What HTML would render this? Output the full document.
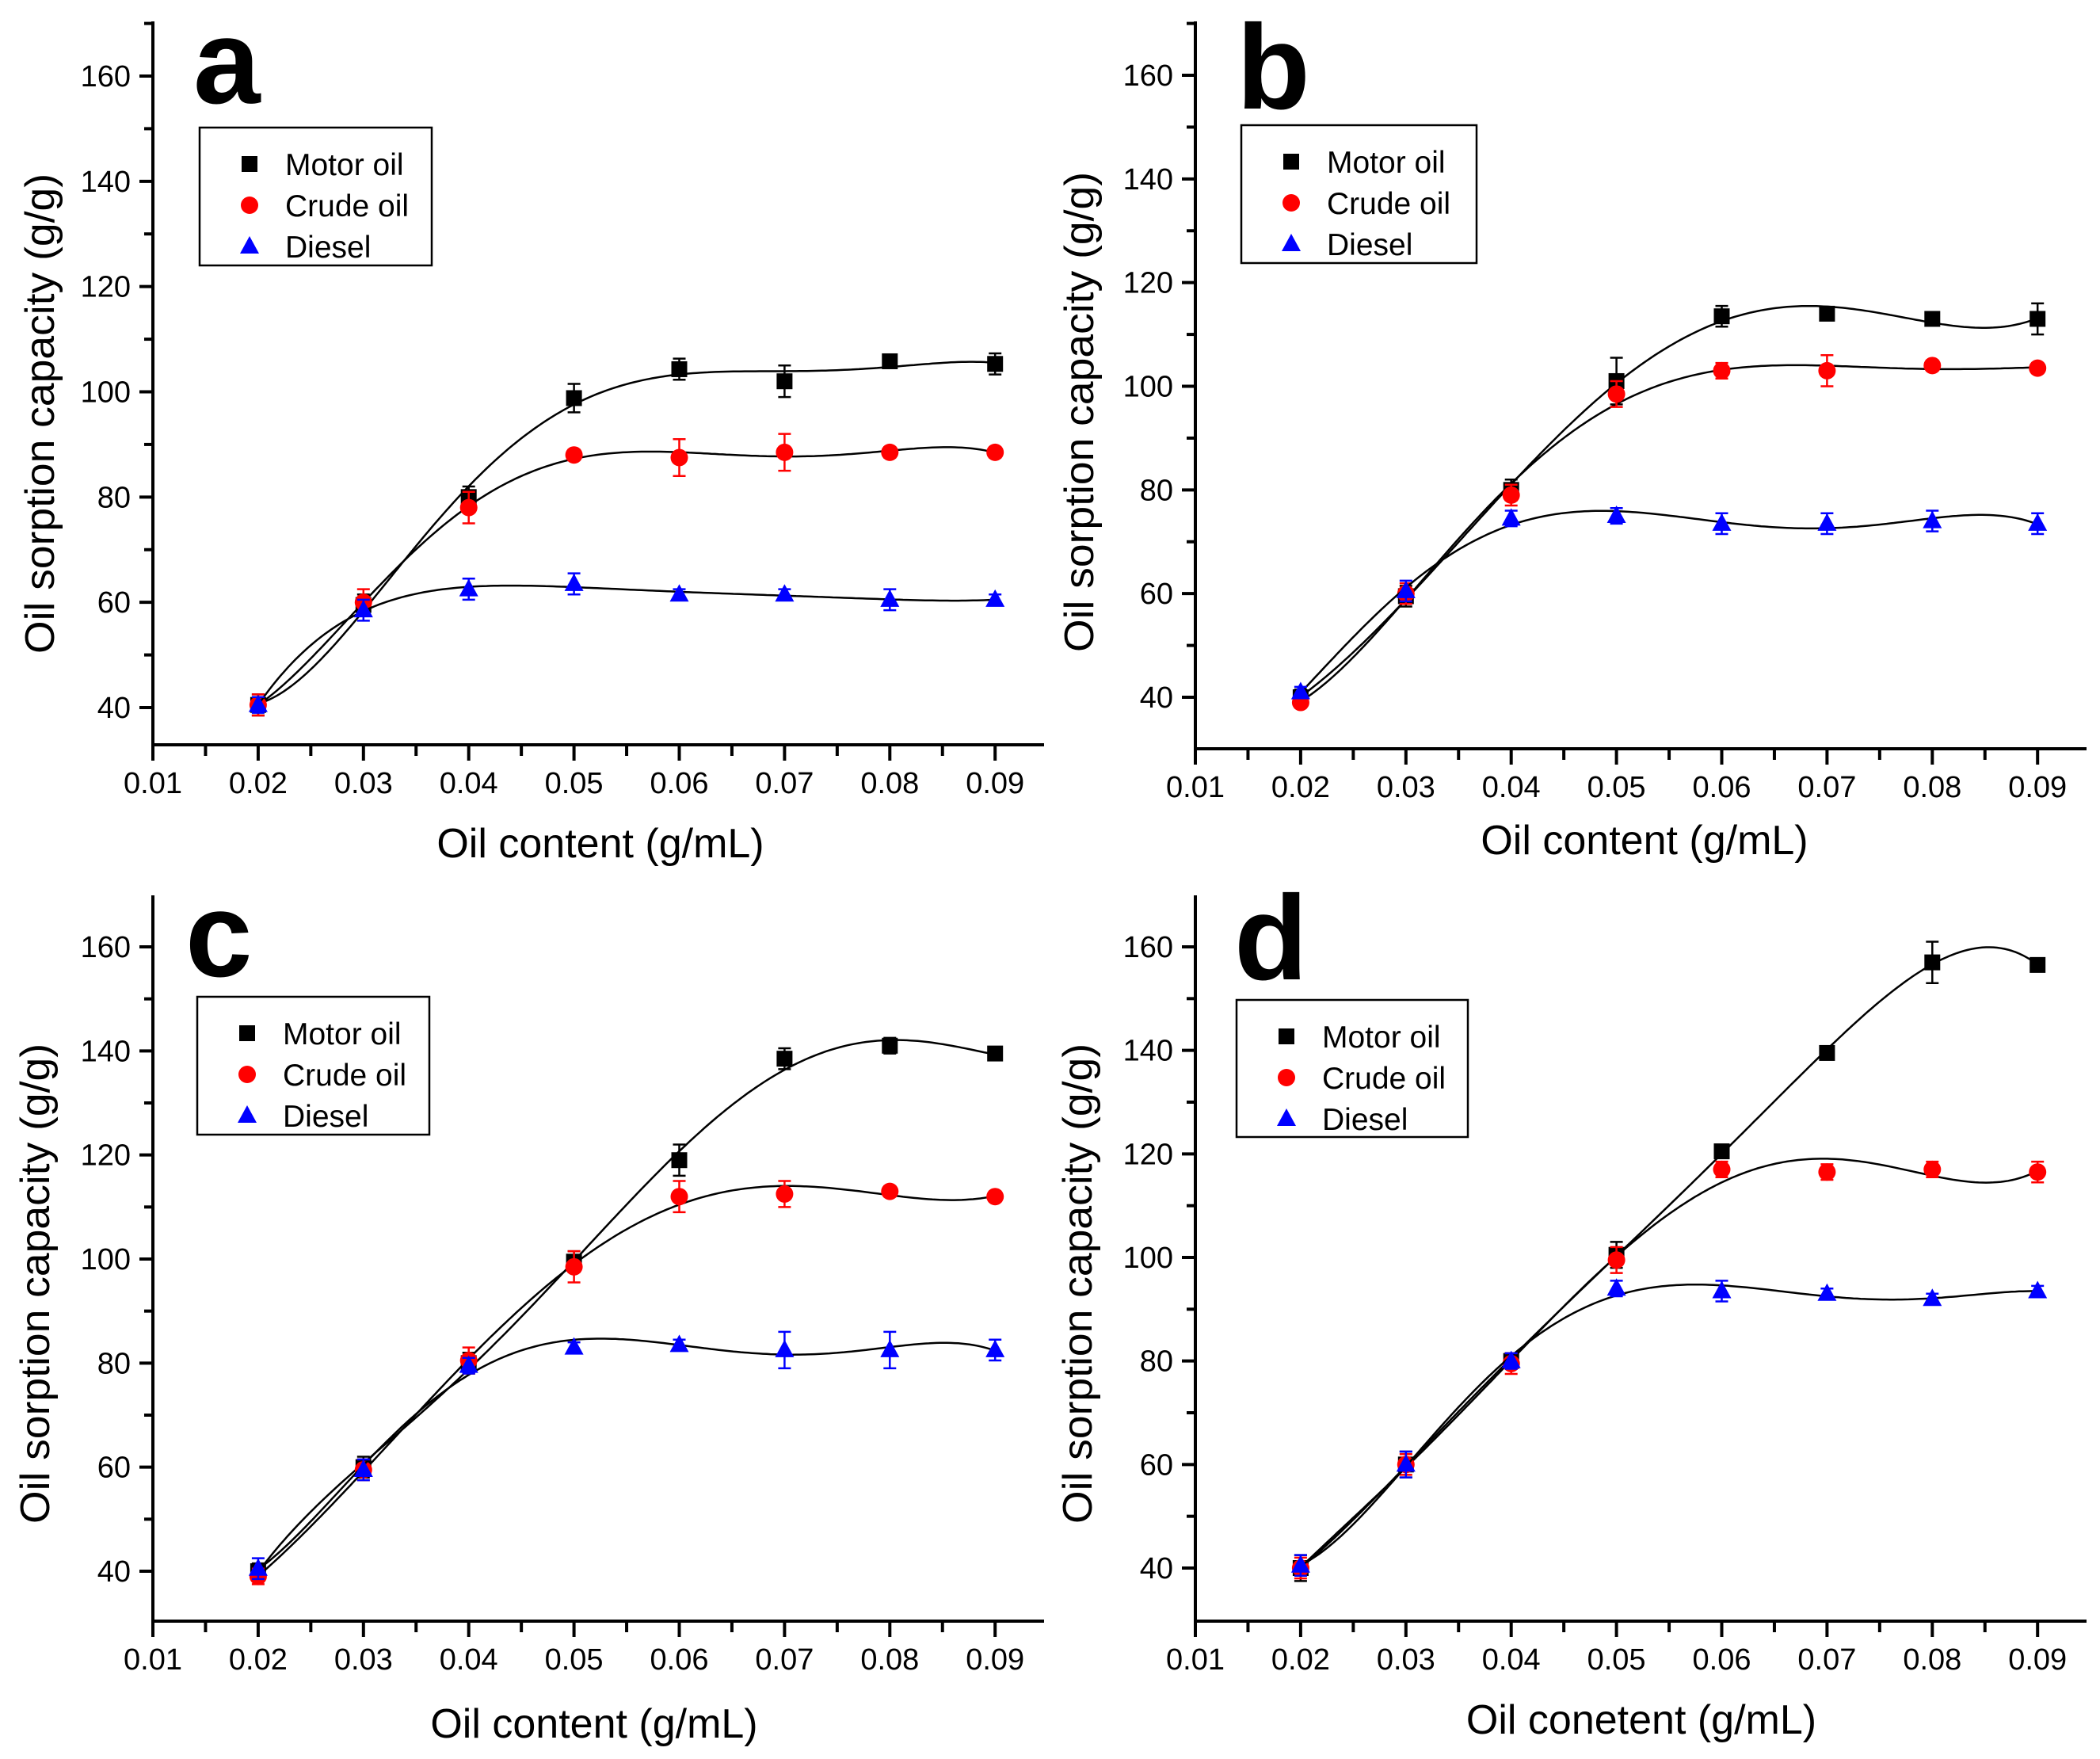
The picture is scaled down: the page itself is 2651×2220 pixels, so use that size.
<!DOCTYPE html>
<html><head><meta charset="utf-8">
<style>
html,body{margin:0;padding:0;background:#fff;}
svg{display:block;font-family:"Liberation Sans",Arial,sans-serif;}
</style></head>
<body>
<svg id="fig" width="2651" height="2220" viewBox="0 0 2651 2220" xmlns="http://www.w3.org/2000/svg"></svg>
<script>
// ---- data ----
const xValues = [0.02,0.03,0.04,0.05,0.06,0.07,0.08,0.09];
const xTickLabels = ["0.01","0.02","0.03","0.04","0.05","0.06","0.07","0.08","0.09"];
const yTickLabels = ["40","60","80","100","120","140","160"];
const seriesNames = ["Motor oil","Crude oil","Diesel"];
const panelLetters = ["a","b","c","d"];
const xTitles = ["Oil content (g/mL)","Oil content (g/mL)","Oil content (g/mL)","Oil conetent (g/mL)"];

const aMotor  = [40.5,59.5,80,98.8,104.3,102,105.8,105.3];
const aMotorErr = [2,2,2,2.7,2,3,1,2];
const aCrude  = [40.5,60,78,88,87.5,88.5,88.5,88.5];
const aCrudeErr = [2,2.5,3,1,3.5,3.5,1,1];
const aDiesel = [40.5,58.5,62.5,63.5,61.5,61.5,60.5,60.5];
const aDieselErr = [1.5,2,2,2,1,1,2,1];

const bMotor  = [40,59.5,80,101,113.5,114,113,113];
const bMotorErr = [1.5,2,2,4.5,2,1,1,3];
const bCrude  = [39,60,79,98.5,103,103,104,103.5];
const bCrudeErr = [1,2,2,2.5,1.5,3,1,1];
const bDiesel = [41,60.5,74.5,75,73.5,73.5,74,73.5];
const bDieselErr = [1,2,1.5,1.5,2,2,2,2];

const cMotor  = [40,60,80,99.5,119,138.5,141,139.5];
const cMotorErr = [1.5,2,2,2,3,2,1.5,1];
const cCrude  = [39,59.5,80.5,98.5,112,112.5,113,112];
const cCrudeErr = [1.5,2,2.5,3,3,2.5,1,1];
const cDiesel = [40.5,59.5,79.5,83,83.5,82.5,82.5,82.5];
const cDieselErr = [2,2,1.5,1,1,3.5,3.5,2];

const dMotor  = [40,60,80,100.5,120.5,139.5,157,156.5];
const dMotorErr = [2.5,2.5,1.5,2.5,1,1,4,1];
const dCrude  = [40,60,79.5,99.5,117,116.5,117,116.5];
const dCrudeErr = [2,2,2,2.5,1.5,1.5,1.5,2];
const dDiesel = [40.5,60,80,94,93.5,93,92,93.5];
const dDieselErr = [2,2.5,1.5,1.5,2,1,1,1];

const panelSeries = [
  [[aMotor,aMotorErr],[aCrude,aCrudeErr],[aDiesel,aDieselErr]],
  [[bMotor,bMotorErr],[bCrude,bCrudeErr],[bDiesel,bDieselErr]],
  [[cMotor,cMotorErr],[cCrude,cCrudeErr],[cDiesel,cDieselErr]],
  [[dMotor,dMotorErr],[dCrude,dCrudeErr],[dDiesel,dDieselErr]]
];

// ---- layout (pixels) ----
const panels = [
  {L:193,y40:893,y160:96,yB:940,yT:27,letter:[248,130],leg:[252,161,293,174],xt:[758,1082],yt:[50,522]},
  {L:1509,y40:880,y160:95,yB:945,yT:27,letter:[1565,137],leg:[1567,158,297,174],xt:[2076,1078],yt:[1362,520]},
  {L:193,y40:1983,y160:1195,yB:2046,yT:1130,letter:[238,1232],leg:[249,1258,293,174],xt:[750,2193],yt:[44,1620]},
  {L:1509,y40:1979,y160:1195,yB:2046,yT:1130,letter:[1562,1236],leg:[1561,1262,292,173],xt:[2072,2188],yt:[1360,1620]}
];
const PX = 132.9; // px per 0.01
const colors = ["#000000","#ff0000","#0000ff"];
const NS = "http://www.w3.org/2000/svg";
const svg = document.getElementById('fig');
function mk(tag, attrs, parent){
  const e = document.createElementNS(NS, tag);
  for (const k in attrs) e.setAttribute(k, attrs[k]);
  (parent||svg).appendChild(e);
  return e;
}
function polyfit(xs, ys, deg){
  const n = deg+1;
  const A = [];
  for (let i=0;i<n;i++){A.push(new Array(n+1).fill(0));}
  for (let k=0;k<xs.length;k++){
    const t = (xs[k]-0.055)/0.035;
    const p = [];
    for (let i=0;i<=2*deg;i++) p.push(Math.pow(t,i));
    for (let i=0;i<n;i++){
      for (let j=0;j<n;j++) A[i][j]+=p[i+j];
      A[i][n]+=p[i]*ys[k];
    }
  }
  for (let i=0;i<n;i++){
    let m=i; for (let r=i+1;r<n;r++) if (Math.abs(A[r][i])>Math.abs(A[m][i])) m=r;
    [A[i],A[m]]=[A[m],A[i]];
    for (let r=0;r<n;r++){ if(r===i) continue; const f=A[r][i]/A[i][i]; for(let c=i;c<=n;c++) A[r][c]-=f*A[i][c]; }
  }
  const coef=[]; for (let i=0;i<n;i++) coef.push(A[i][n]/A[i][i]);
  return x=>{const t=(x-0.055)/0.035; let s=0; for(let i=n-1;i>=0;i--) s=s*t+coef[i]; return s;};
}
function marker(type, cx, cy, color, g){
  if (type===0) return mk('rect',{x:cx-10,y:cy-10,width:20,height:20,fill:color},g);
  if (type===1) return mk('circle',{cx:cx,cy:cy,r:11,fill:color},g);
  return mk('polygon',{points:`${cx},${cy-13} ${cx+12},${cy+9} ${cx-12},${cy+9}`,fill:color},g);
}

panels.forEach((P, pi)=>{
  const g = mk('g',{});
  
  
  const sy = (P.y40-P.y160)/120;
  const X = v => P.L + (v-0.01)/0.01*PX;
  const Y = v => P.y40 - (v-40)*sy;
  const R = P.L + 1125;
  const ax = mk('path',{d:`M${P.L},${P.yT} L${P.L},${P.yB} L${R},${P.yB}`,fill:'none',stroke:'#000','stroke-width':4},g);
  
  
  for (let i=0;i<17;i++){
    const v = 0.01 + i*0.005;
    const x = X(v);
    mk('line',{x1:x,y1:P.yB,x2:x,y2:P.yB+(i%2===0?20:14),stroke:'#000','stroke-width':4},g);
  }
  xTickLabels.forEach((t,i)=>{
    const tx = mk('text',{x:X(0.01+i*0.01),y:P.yB+61,'font-size':38,'text-anchor':'middle',fill:'#000'},g);
    tx.textContent = t;
    
    
  });
  for (let v=40; v<=170; v+=10){
    const y = Y(v);
    if (y < P.yT+2) continue;
    mk('line',{x1:P.L-(v%20===0?17:11),y1:y,x2:P.L,y2:y,stroke:'#000','stroke-width':4},g);
  }
  yTickLabels.forEach(t=>{
    const ty = mk('text',{x:P.L-28,y:Y(+t)+13,'font-size':38,'text-anchor':'end',fill:'#000'},g);
    ty.textContent = t;
    
    
  });
  const xt = mk('text',{x:P.xt[0],y:P.xt[1],'font-size':52,'text-anchor':'middle',fill:'#000'},g);
  xt.textContent = xTitles[pi];
  
  
  const yt = mk('text',{x:0,y:0,'font-size':52,'text-anchor':'middle',fill:'#000',
    transform:`translate(${P.yt[0]+18},${P.yt[1]}) rotate(-90)`,textLength:606,lengthAdjust:'spacingAndGlyphs'},g);
  yt.textContent = 'Oil sorption capacity (g/g)';
  
  
  const lt = mk('text',{x:P.letter[0]-4,y:P.letter[1],'font-size':152,'font-weight':'bold',fill:'#000'},g);
  lt.textContent = panelLetters[pi];
  
  
  panelSeries[pi].forEach((S, si)=>{
    const vals = S[0], errs = S[1];
    const sg = mk('g',{},g);
    
    
    const f = polyfit(xValues, vals, 5);
    let d = '';
    for (let k=0;k<=200;k++){
      const v = 0.02 + k*0.07/200;
      d += (k?'L':'M') + X(v).toFixed(1) + ',' + Y(f(v)).toFixed(1);
    }
    const fit = mk('path',{d:d,fill:'none',stroke:'#000','stroke-width':2.5},sg);
    
    
    vals.forEach((v,k)=>{
      const cx = X(xValues[k]), cy = Y(v);
      const e = errs[k]*sy;
      const eb = mk('path',{d:`M${cx},${cy-e}L${cx},${cy+e}M${cx-8},${cy-e}L${cx+8},${cy-e}M${cx-8},${cy+e}L${cx+8},${cy+e}`,stroke:colors[si],'stroke-width':2.5,fill:'none'},sg);
      
      
      const m = marker(si, cx, cy, colors[si], sg);
      
      
    });
  });
  const lg = mk('g',{},g);
  
  
  const [lx,ly,lw,lh] = P.leg;
  mk('rect',{x:lx,y:ly,width:lw,height:lh,fill:'#fff',stroke:'#000','stroke-width':2.5},lg);
  seriesNames.forEach((n,si)=>{
    const cy = ly + 46 + si*52;
    const le = mk('g',{},lg);
    
    
    marker(si, lx+63, cy, colors[si], le);
    const t = mk('text',{x:lx+108,y:cy+14,'font-size':39,fill:'#000'},le);
    t.textContent = n;
  });
});
</script>
</body></html>
